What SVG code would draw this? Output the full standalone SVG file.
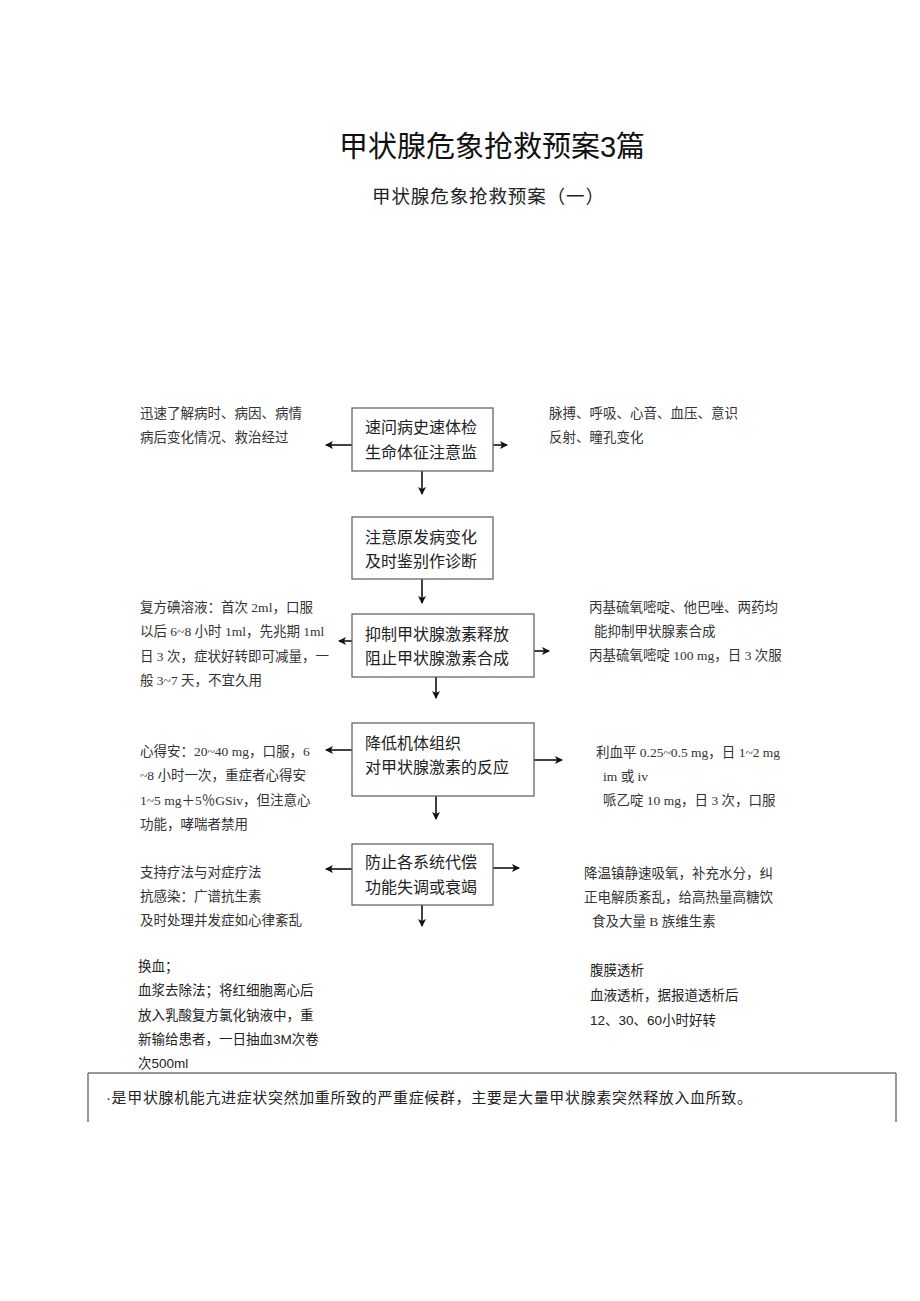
<svg xmlns="http://www.w3.org/2000/svg" width="920" height="1301" viewBox="0 0 920 1301">
<style>
.t{font-family:"Liberation Serif","Noto Sans CJK SC",serif;font-size:13.5px;fill:#333}
.s{font-family:"Liberation Sans","Noto Sans CJK SC",sans-serif;font-size:13.5px;fill:#222}
.b{font-family:"Liberation Serif","Noto Sans CJK SC",serif;font-size:16px;fill:#222}
.box{fill:#fff;stroke:#666;stroke-width:1.3}
.c line{stroke:#111;stroke-width:1.6;marker-end:url(#ah)}
</style>
<defs>
<marker id="ah" markerWidth="8" markerHeight="8" refX="7" refY="4" orient="auto" markerUnits="userSpaceOnUse"><path d="M0,0 L8,4 L0,8 L2,4 Z" fill="#111"/></marker>
</defs>
<rect width="920" height="1301" fill="#fff"/>
<g id="title">
<text x="492" y="157" text-anchor="middle" font-family="Liberation Sans,'Noto Sans CJK SC',sans-serif" font-size="29" fill="#111">甲状腺危象抢救预案3篇</text>
<text x="372" y="203" textLength="232" lengthAdjust="spacing" font-family="Liberation Sans,'Noto Sans CJK SC',sans-serif" font-size="18.5" fill="#222">甲状腺危象抢救预案（一）</text>
</g>
<g class="c" id="connectors">
<line x1="352" y1="445" x2="326" y2="445"/>
<line x1="493" y1="445" x2="507" y2="445"/>
<line x1="422" y1="471" x2="422" y2="494"/>
<line x1="422" y1="579" x2="422" y2="603"/>
<line x1="352" y1="641" x2="339" y2="641"/>
<line x1="534" y1="651" x2="549" y2="651"/>
<line x1="436" y1="677" x2="436" y2="698"/>
<line x1="352" y1="750" x2="326" y2="750"/>
<line x1="534" y1="760" x2="562" y2="760"/>
<line x1="436" y1="796" x2="436" y2="819"/>
<line x1="352" y1="869" x2="326" y2="869"/>
<line x1="493" y1="868" x2="519" y2="868"/>
<line x1="422" y1="905" x2="422" y2="926"/>
</g>
<g id="n1"><rect class="box" x="352" y="408" width="141" height="63"/>
<text class="b" x="365" y="433">速问病史速体检</text><text class="b" x="365" y="458">生命体征注意监</text></g>
<g id="n2"><rect class="box" x="352" y="517" width="141" height="62"/>
<text class="b" x="365" y="543">注意原发病变化</text><text class="b" x="365" y="567">及时鉴别作诊断</text></g>
<g id="n3"><rect class="box" x="352" y="614" width="182" height="63"/>
<text class="b" x="365" y="640">抑制甲状腺激素释放</text><text class="b" x="365" y="664">阻止甲状腺激素合成</text></g>
<g id="n4"><rect class="box" x="352" y="723" width="182" height="73"/>
<text class="b" x="365" y="749">降低机体组织</text><text class="b" x="365" y="773">对甲状腺激素的反应</text></g>
<g id="n5"><rect class="box" x="352" y="844" width="141" height="61"/>
<text class="b" x="365" y="868">防止各系统代偿</text><text class="b" x="365" y="893">功能失调或衰竭</text></g>
<g id="l1"><text class="t" x="140" y="418">迅速了解病时、病因、病情</text><text class="t" x="140" y="442">病后变化情况、救治经过</text></g>
<g id="r1"><text class="t" x="549" y="418">脉搏、呼吸、心音、血压、意识</text><text class="t" x="549" y="442">反射、瞳孔变化</text></g>
<g id="l3"><text class="t" x="140" y="612">复方碘溶液：首次 2ml，口服</text><text class="t" x="140" y="636">以后 6~8 小时 1ml，先兆期 1ml</text><text class="t" x="140" y="661">日 3 次，症状好转即可减量，一</text><text class="t" x="140" y="685">般 3~7 天，不宜久用</text></g>
<g id="r3"><text class="t" x="589" y="612">丙基硫氧嘧啶、他巴唑、两药均</text><text class="t" x="594" y="636">能抑制甲状腺素合成</text><text class="t" x="589" y="660">丙基硫氧嘧啶 100 mg，日 3 次服</text></g>
<g id="l4"><text class="t" x="140" y="756">心得安：20~40 mg，口服，6</text><text class="t" x="140" y="780">~8 小时一次，重症者心得安</text><text class="t" x="140" y="805">1~5 mg＋5％GSiv，但注意心</text><text class="t" x="140" y="829">功能，哮喘者禁用</text></g>
<g id="r4"><text class="t" x="596" y="757">利血平 0.25~0.5 mg，日 1~2 mg</text><text class="t" x="603" y="781">im 或 iv</text><text class="t" x="603" y="805">哌乙啶 10 mg，日 3 次，口服</text></g>
<g id="l5"><text class="t" x="140" y="877">支持疗法与对症疗法</text><text class="t" x="140" y="901">抗感染：广谱抗生素</text><text class="t" x="140" y="925">及时处理并发症如心律紊乱</text></g>
<g id="r5"><text class="t" x="584" y="878">降温镇静速吸氧，补充水分，纠</text><text class="t" x="584" y="902">正电解质紊乱，给高热量高糖饮</text><text class="t" x="592" y="926">食及大量 B 族维生素</text></g>
<g id="l6"><text class="s" x="138" y="971">换血；</text><text class="s" x="138" y="995">血浆去除法；将红细胞离心后</text><text class="s" x="138" y="1020">放入乳酸复方氯化钠液中，重</text><text class="s" x="138" y="1044">新输给患者，一日抽血3M次卷</text><text class="s" x="138" y="1068">次500ml</text></g>
<g id="r6"><text class="s" x="590" y="975">腹膜透析</text><text class="s" x="590" y="1000">血液透析，据报道透析后</text><text class="s" x="590" y="1025">12、30、60小时好转</text></g>
<g id="note">
<path d="M88,1122 V1073 H896 V1122" fill="none" stroke="#333" stroke-width="1"/>
<text x="106" y="1103" textLength="646" lengthAdjust="spacing" font-family="Liberation Sans,'Noto Sans CJK SC',sans-serif" font-size="15" fill="#222">·是甲状腺机能亢进症状突然加重所致的严重症候群，主要是大量甲状腺素突然释放入血所致。</text>
</g>
</svg>
